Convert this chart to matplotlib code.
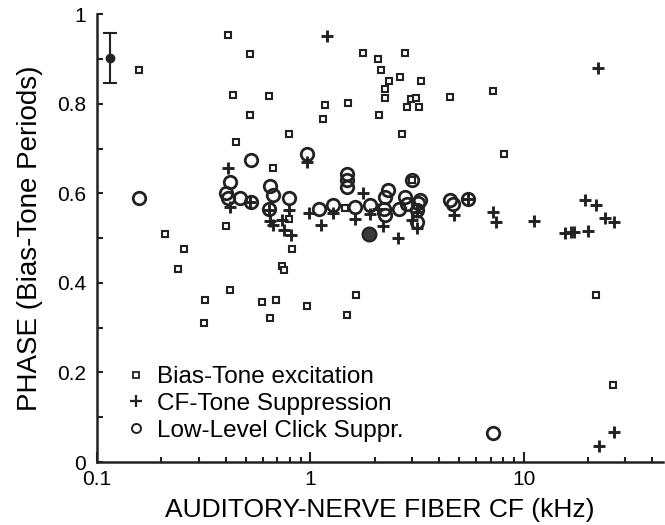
import matplotlib
matplotlib.use('Agg')
import matplotlib.pyplot as plt
import numpy as np

plt.rcParams['font.family'] = ['Liberation Sans', 'DejaVu Sans']

INK = '#222222'

# Bias-Tone excitation (squares)
bias_cf = [0.157, 0.409, 0.523, 0.435, 0.641, 0.52, 0.447, 0.792, 0.669, 0.404,
           0.209, 0.255, 0.82, 1.17, 1.15, 1.5, 0.792, 1.46, 1.76, 2.08,
           2.15, 2.77, 2.63, 2.34, 3.3, 2.23, 2.24, 2.97, 3.13, 2.83,
           3.23, 4.53, 2.09, 2.69, 7.18, 8.07, 21.9, 26.2, 0.24, 0.32,
           0.317, 0.42, 0.59, 0.689, 0.648, 0.74, 0.75, 0.96, 1.49, 1.63,
           3.0]
bias_ph = [0.875, 0.954, 0.911, 0.819, 0.817, 0.775, 0.714, 0.732, 0.657, 0.527,
           0.510, 0.475, 0.476, 0.798, 0.767, 0.802, 0.542, 0.568, 0.914, 0.900,
           0.876, 0.914, 0.859, 0.850, 0.851, 0.832, 0.813, 0.811, 0.812, 0.792,
           0.792, 0.815, 0.775, 0.733, 0.829, 0.687, 0.374, 0.173, 0.431, 0.362,
           0.310, 0.384, 0.357, 0.362, 0.321, 0.438, 0.429, 0.348, 0.329, 0.374,
           0.630]

# CF-Tone Suppression (plus)
cft_cf = [1.2, 0.409, 0.96, 0.42, 0.52, 0.643, 0.65, 0.67, 0.74, 0.755,
          0.81, 0.79, 0.99, 1.12, 1.28, 1.62, 1.76, 1.9, 2.19, 2.58,
          2.08, 2.98, 3.15, 3.17, 4.7, 7.18, 7.4, 11.2, 15.6, 16.6,
          17.3, 20.1, 19.3, 21.8, 24.1, 26.4, 22.4, 22.6, 26.5, 5.5]
cft_ph = [0.952, 0.657, 0.669, 0.570, 0.581, 0.562, 0.538, 0.529, 0.540, 0.518,
          0.508, 0.562, 0.556, 0.529, 0.556, 0.542, 0.600, 0.553, 0.526, 0.500,
          0.566, 0.541, 0.559, 0.522, 0.551, 0.559, 0.537, 0.539, 0.512, 0.514,
          0.514, 0.516, 0.586, 0.574, 0.544, 0.536, 0.880, 0.036, 0.068, 0.587]

# Low-Level Click Suppression (circles)
clk_cf = [0.157, 0.525, 0.42, 0.404, 0.41, 0.467, 0.525, 0.645, 0.669, 0.643,
          0.79, 0.96, 1.10, 1.28, 1.49, 1.49, 1.48, 1.62, 1.9, 2.24,
          2.30, 2.24, 2.22, 2.61, 2.78, 2.83, 3.0, 3.2, 3.27, 3.15,
          3.15, 4.52, 4.65, 5.5, 7.18]
clk_ph = [0.589, 0.674, 0.626, 0.601, 0.590, 0.589, 0.581, 0.617, 0.597, 0.566,
          0.590, 0.687, 0.566, 0.574, 0.644, 0.630, 0.615, 0.570, 0.573, 0.592,
          0.607, 0.551, 0.566, 0.566, 0.592, 0.577, 0.630, 0.578, 0.586, 0.562,
          0.536, 0.586, 0.577, 0.587, 0.065]

# filled point and error bar marker
filled_cf, filled_ph = [1.89], [0.51]
err_cf, err_ph, err_sd = [0.115], [0.902], [0.056]

fig = plt.figure(figsize=(6.65, 5.25), dpi=100)
ax = fig.add_axes([0.146, 0.12, 0.851, 0.853])

ax.plot(bias_cf, bias_ph, 's', ms=5, mfc='white', mec=INK, mew=1.5,
        label='Bias-Tone excitation')
ax.plot(cft_cf, cft_ph, '+', ms=8.5, mec=INK, mew=2.1,
        label='CF-Tone Suppression')
ax.plot(clk_cf, clk_ph, 'o', ms=9, mfc='none', mec=INK, mew=2.0,
        label='Low-Level Click Suppr.')
ax.plot(filled_cf, filled_ph, 'o', ms=10, mfc='#3a3a3a', mec=INK, mew=1.5)
ax.errorbar(err_cf, err_ph, yerr=err_sd, fmt='o', ms=6, color=INK,
            capsize=5, elinewidth=1.5, capthick=1.5)

ax.set_xscale('log')
ax.set_xlim(0.1, 45)
ax.set_ylim(0, 1)
ax.set_xticks([0.1, 1, 10])
ax.set_xticklabels(['0.1', '1', '10'])
ax.set_yticks([0, 0.2, 0.4, 0.6, 0.8, 1.0])
ax.set_yticklabels(['0', '0.2', '0.4', '0.6', '0.8', '1'])
ax.yaxis.set_minor_locator(matplotlib.ticker.MultipleLocator(0.1))
ax.xaxis.set_minor_formatter(matplotlib.ticker.NullFormatter())

for s in ['top', 'right']:
    ax.spines[s].set_visible(False)
for s in ['left', 'bottom']:
    ax.spines[s].set_linewidth(1.8)
    ax.spines[s].set_color(INK)

ax.tick_params(axis='both', which='both', direction='in', color=INK,
               labelsize=15, width=1.5)
ax.tick_params(axis='x', which='major', length=7, pad=6)
ax.tick_params(axis='x', which='minor', length=3.5)
ax.tick_params(axis='y', which='both', length=4, pad=8)

ax.set_xlabel('AUDITORY-NERVE FIBER CF (kHz)', fontsize=19, labelpad=6)
ax.set_ylabel('PHASE (Bias-Tone Periods)', fontsize=20, labelpad=10)

leg = ax.legend(loc='lower left', bbox_to_anchor=(0.052, 0.045), frameon=False,
                fontsize=17.5, handlelength=0.8, handletextpad=0.45,
                labelspacing=0.2, borderpad=0, borderaxespad=0)
h_sq, h_pl, h_ci = leg.legend_handles
h_sq.set_markersize(4.5)
h_sq.set_markeredgewidth(1.3)
h_pl.set_markersize(8)
h_pl.set_markeredgewidth(1.6)
h_ci.set_markersize(6.5)
h_ci.set_markeredgewidth(1.4)

fig.savefig('out.png', dpi=100)
